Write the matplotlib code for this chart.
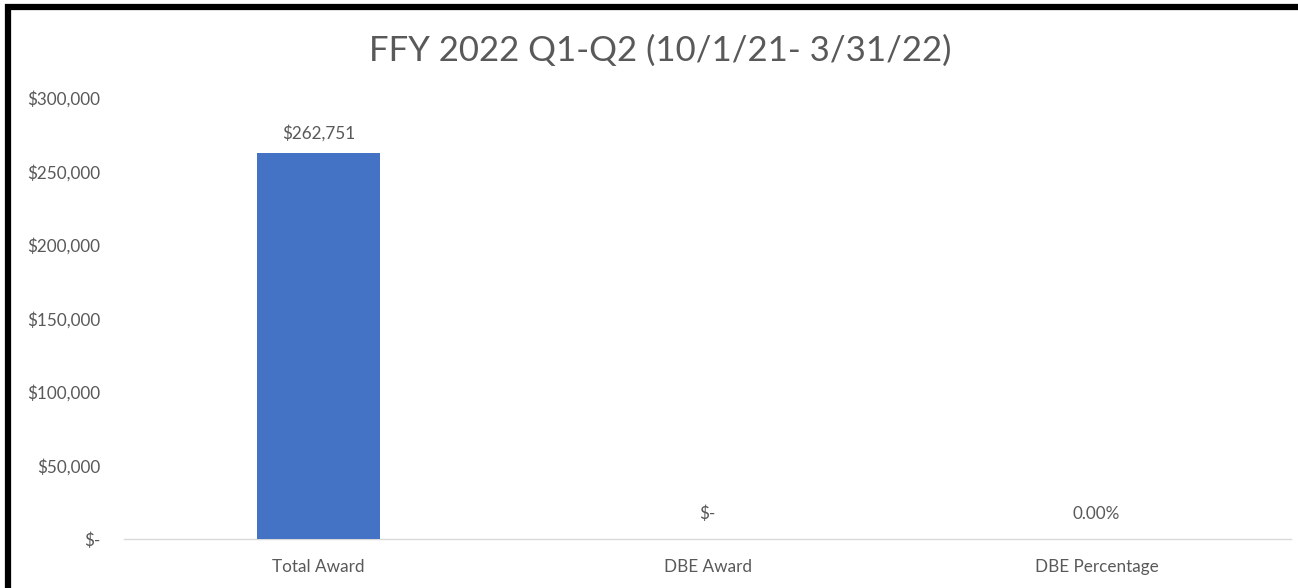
import matplotlib
matplotlib.use("Agg")
import matplotlib.pyplot as plt
from matplotlib.patches import Rectangle
from matplotlib.ticker import FuncFormatter

categories = ["Total Award", "DBE Award", "DBE Percentage"]
values = [262751, 0, 0]
value_labels = ["$262,751", "$-", "0.00%"]
yticks = [0, 50000, 100000, 150000, 200000, 250000, 300000]
title = "FFY 2022 Q1-Q2 (10/1/21- 3/31/22)"

plt.rcParams['font.family'] = ['Lato', 'DejaVu Sans']
TXT = "#595959"

W, H = 1298, 588
fig = plt.figure(figsize=(W / 100, H / 100), dpi=100)
ax = fig.add_axes([124 / W, 1 - 539 / H, (1291 - 124) / W, (539 - 98) / H])

x = list(range(len(categories)))
ax.bar(x, values, width=0.314, color="#4472C4", zorder=3)
ax.set_xlim(-0.5, len(categories) - 0.5)
ax.set_ylim(0, 300000)
ax.set_yticks(yticks)

def fmt(v, pos):
    return "$-" if v == 0 else "${:,.0f}".format(v)

ax.yaxis.set_major_formatter(FuncFormatter(fmt))
ax.set_xticks(x)
ax.set_xticklabels(categories)
ax.tick_params(axis="both", length=0, colors=TXT, labelsize=12.3)
ax.tick_params(axis="y", pad=17)
ax.tick_params(axis="x", pad=14.5)
for s in ["top", "right", "left"]:
    ax.spines[s].set_visible(False)
ax.spines["bottom"].set_color("#D9D9D9")
ax.spines["bottom"].set_linewidth(1.0)

for xi, v, lab in zip(x, values, value_labels):
    ax.annotate(lab, (xi, v), xytext=(0, 8 if v > 0 else 12), textcoords="offset points",
                ha="center", va="bottom", color=TXT, fontsize=12.3)

fig.text(660 / W, 1 - 51 / H, title, ha="center", va="center", color=TXT, fontsize=25)

# black frame (left and top visible, extends beyond right/bottom)
fig.patches.append(Rectangle((7.5 / W, -0.1), 1.2, (1 - 6.5 / H) + 0.1, transform=fig.transFigure,
                             fill=False, edgecolor="black", linewidth=4.5))

fig.savefig("out.png", dpi=100)
